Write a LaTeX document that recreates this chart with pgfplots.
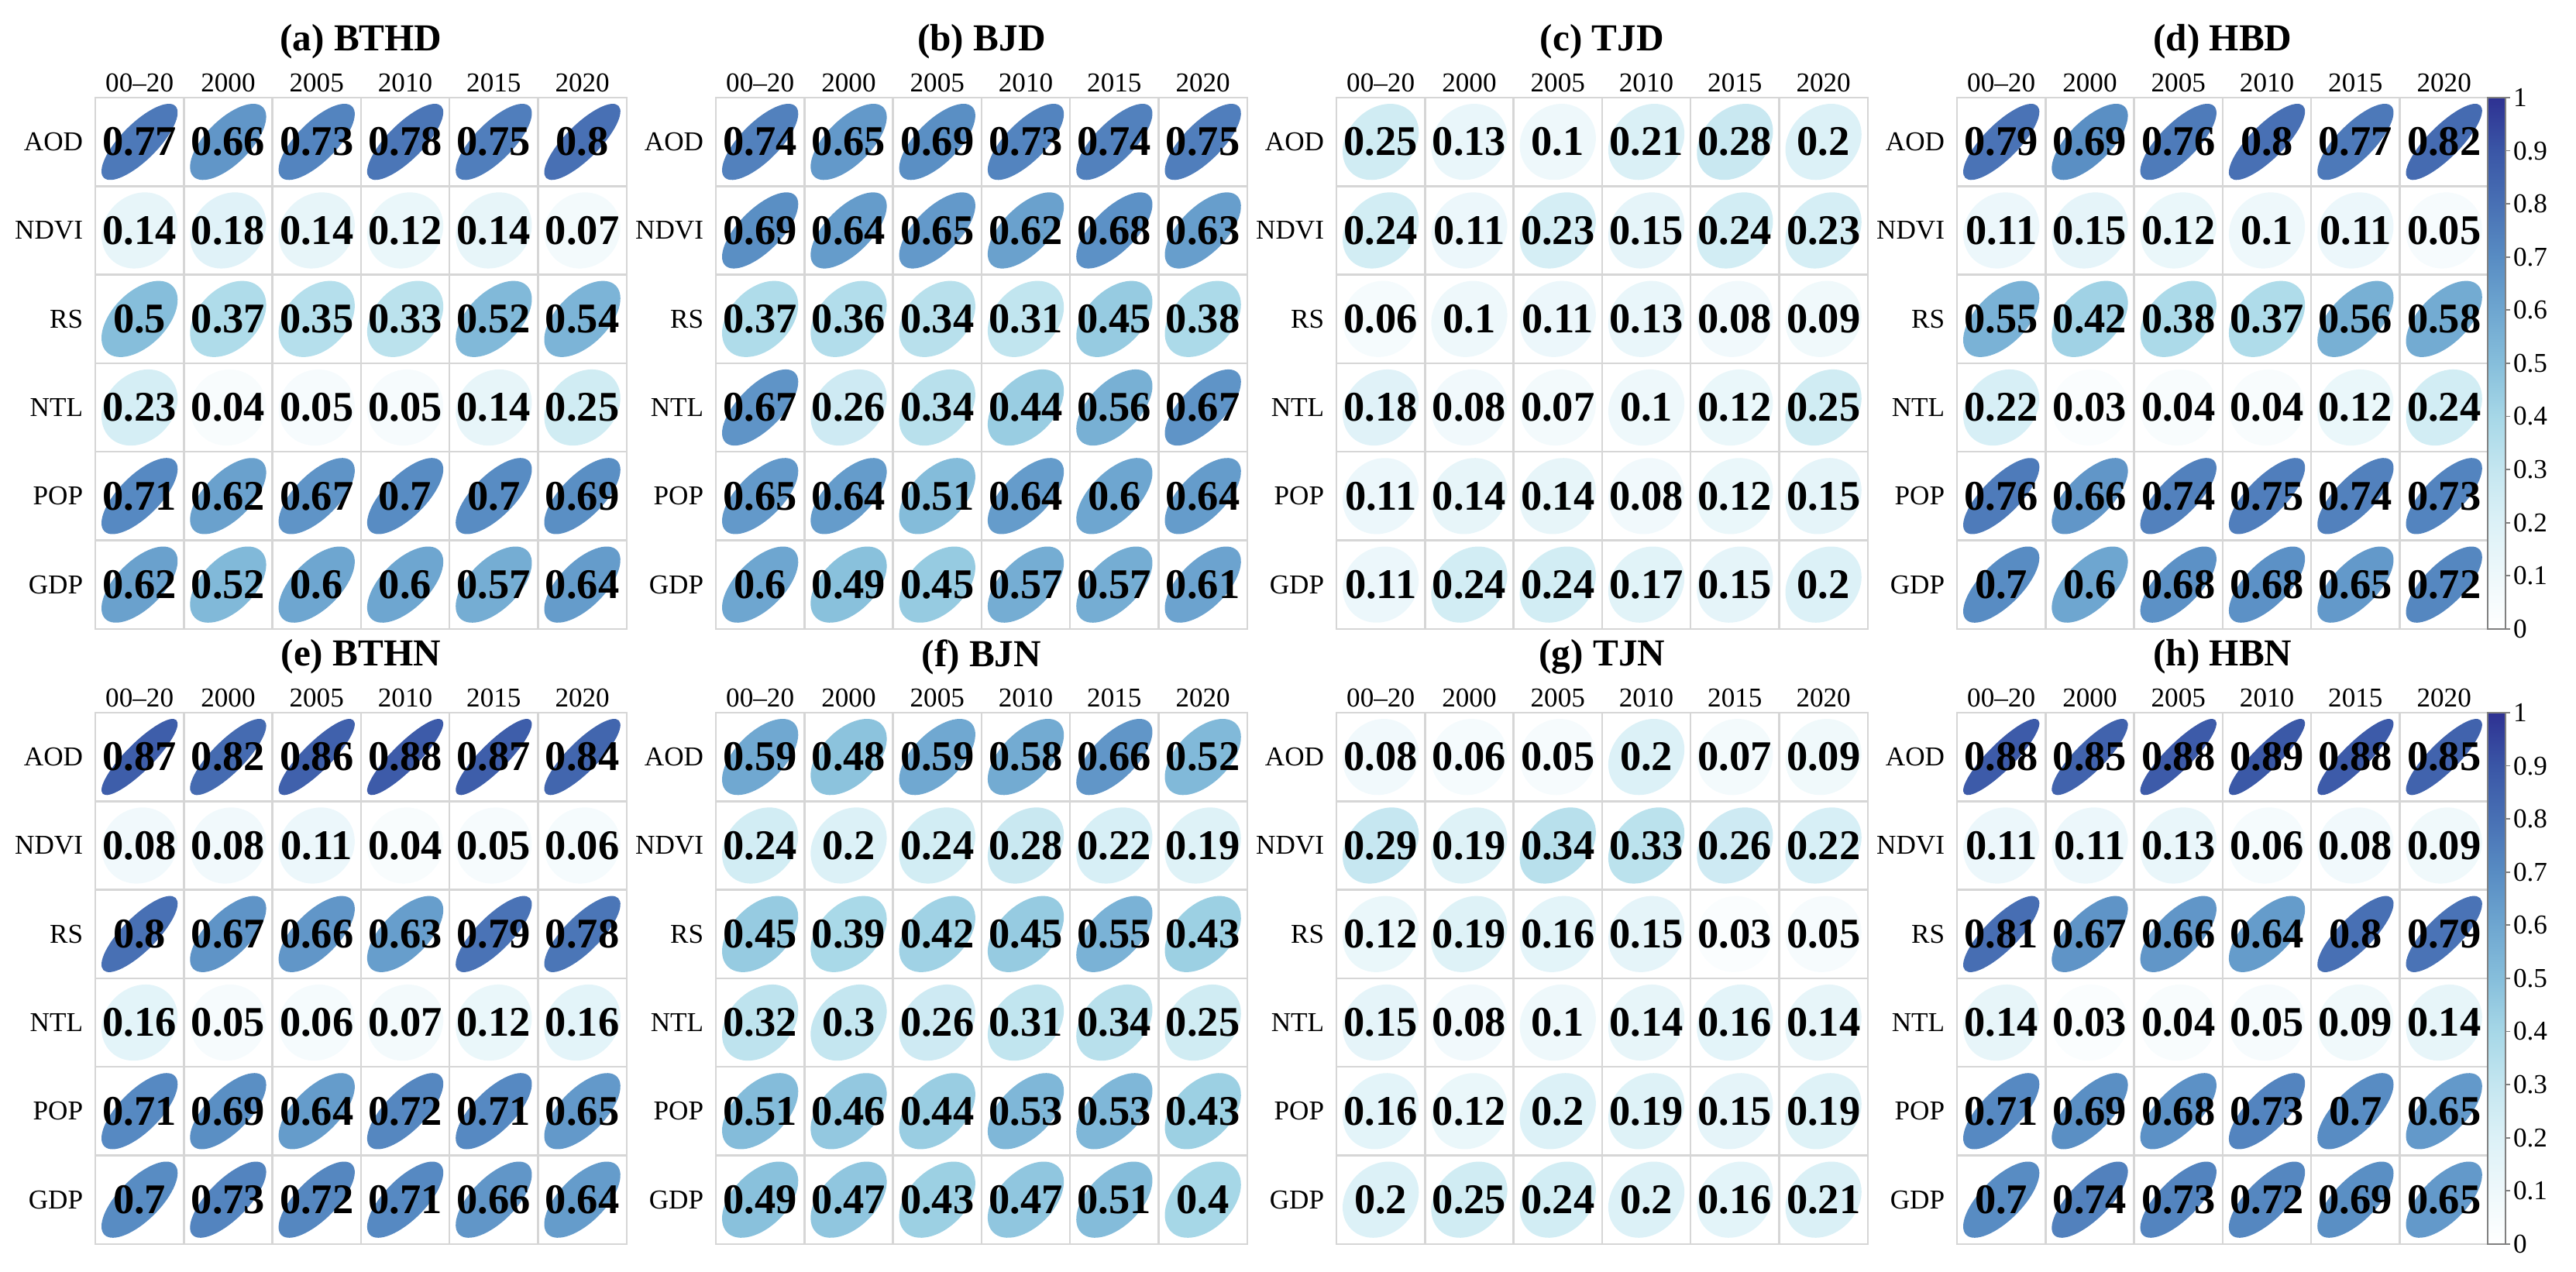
\documentclass[border=0pt]{standalone}
\usepackage{fontspec}
\setmainfont{Liberation Serif}
\usepackage{pgfplots}
\usepackage{pgfplotstable}
\pgfplotsset{compat=1.18}

\definecolor{gridgray}{RGB}{214,214,214}

% rows: AOD NDVI RS NTL POP GDP; columns: 00-20 2000 2005 2010 2015 2020
\pgfplotstableread{
c1 c2 c3 c4 c5 c6
0.77 0.66 0.73 0.78 0.75 0.8
0.14 0.18 0.14 0.12 0.14 0.07
0.5 0.37 0.35 0.33 0.52 0.54
0.23 0.04 0.05 0.05 0.14 0.25
0.71 0.62 0.67 0.7 0.7 0.69
0.62 0.52 0.6 0.6 0.57 0.64
}\tabA
\pgfplotstableread{
c1 c2 c3 c4 c5 c6
0.74 0.65 0.69 0.73 0.74 0.75
0.69 0.64 0.65 0.62 0.68 0.63
0.37 0.36 0.34 0.31 0.45 0.38
0.67 0.26 0.34 0.44 0.56 0.67
0.65 0.64 0.51 0.64 0.6 0.64
0.6 0.49 0.45 0.57 0.57 0.61
}\tabB
\pgfplotstableread{
c1 c2 c3 c4 c5 c6
0.25 0.13 0.1 0.21 0.28 0.2
0.24 0.11 0.23 0.15 0.24 0.23
0.06 0.1 0.11 0.13 0.08 0.09
0.18 0.08 0.07 0.1 0.12 0.25
0.11 0.14 0.14 0.08 0.12 0.15
0.11 0.24 0.24 0.17 0.15 0.2
}\tabC
\pgfplotstableread{
c1 c2 c3 c4 c5 c6
0.79 0.69 0.76 0.8 0.77 0.82
0.11 0.15 0.12 0.1 0.11 0.05
0.55 0.42 0.38 0.37 0.56 0.58
0.22 0.03 0.04 0.04 0.12 0.24
0.76 0.66 0.74 0.75 0.74 0.73
0.7 0.6 0.68 0.68 0.65 0.72
}\tabD
\pgfplotstableread{
c1 c2 c3 c4 c5 c6
0.87 0.82 0.86 0.88 0.87 0.84
0.08 0.08 0.11 0.04 0.05 0.06
0.8 0.67 0.66 0.63 0.79 0.78
0.16 0.05 0.06 0.07 0.12 0.16
0.71 0.69 0.64 0.72 0.71 0.65
0.7 0.73 0.72 0.71 0.66 0.64
}\tabE
\pgfplotstableread{
c1 c2 c3 c4 c5 c6
0.59 0.48 0.59 0.58 0.66 0.52
0.24 0.2 0.24 0.28 0.22 0.19
0.45 0.39 0.42 0.45 0.55 0.43
0.32 0.3 0.26 0.31 0.34 0.25
0.51 0.46 0.44 0.53 0.53 0.43
0.49 0.47 0.43 0.47 0.51 0.4
}\tabF
\pgfplotstableread{
c1 c2 c3 c4 c5 c6
0.08 0.06 0.05 0.2 0.07 0.09
0.29 0.19 0.34 0.33 0.26 0.22
0.12 0.19 0.16 0.15 0.03 0.05
0.15 0.08 0.1 0.14 0.16 0.14
0.16 0.12 0.2 0.19 0.15 0.19
0.2 0.25 0.24 0.2 0.16 0.21
}\tabG
\pgfplotstableread{
c1 c2 c3 c4 c5 c6
0.88 0.85 0.88 0.89 0.88 0.85
0.11 0.11 0.13 0.06 0.08 0.09
0.81 0.67 0.66 0.64 0.8 0.79
0.14 0.03 0.04 0.05 0.09 0.14
0.71 0.69 0.68 0.73 0.7 0.65
0.7 0.74 0.73 0.72 0.69 0.65
}\tabH

% corrplot-style ellipse; meta is mapped 0..1 -> 0..1000
\pgfdeclareplotmark{corrEll}{%
  \pgfmathsetmacro\rv{\pgfplotspointmetatransformed/1000}%
  \pgfmathsetmacro\ea{13.98*sqrt(1+\rv)}%
  \pgfmathsetmacro\eb{13.98*sqrt(max(1-\rv,0))}%
  \pgftransformrotate{45}%
  \pgfpathellipse{\pgfpointorigin}{\pgfpoint{\ea pt}{0pt}}{\pgfpoint{0pt}{\eb pt}}%
  \pgfusepathqfill}

\pgfplotsset{
  corrax/.style={
    scale only axis, anchor=north west, clip=false,
    x=1.143cm, y=1.143cm,
    xmin=0.5, xmax=6.5, ymin=0.5, ymax=6.5,
    xtick={1,2,3,4,5,6}, ytick={1,2,3,4,5,6},
    xticklabels={00--20,2000,2005,2010,2015,2020},
    yticklabels={GDP,POP,NTL,RS,NDVI,AOD},
    xticklabel pos=top,
    major tick length=0pt, minor tick length=0pt,
    minor xtick={1.5,2.5,3.5,4.5,5.5}, minor ytick={1.5,2.5,3.5,4.5,5.5},
    xminorgrids, yminorgrids,
    minor grid style={gridgray, line width=0.7pt},
    axis line style={gridgray, line width=0.7pt},
    tick label style={font=\fontsize{10}{12}\selectfont},
    xticklabel style={yshift=-1.5pt},
    yticklabel style={xshift=-1pt},
    colormap={corr}{rgb255=(255,255,255) rgb255=(238,248,251) rgb255=(220,241,247)
      rgb255=(196,230,240) rgb255=(166,215,231) rgb255=(134,190,219)
      rgb255=(110,166,208) rgb255=(88,140,195) rgb255=(72,112,180)
      rgb255=(58,86,166) rgb255=(46,49,146)},
    point meta min=0, point meta max=1,
  },
  corrplot/.style={scatter, only marks, mark=corrEll, point meta=explicit},
  corrtext/.style={
    only marks, mark=none, draw=none, point meta=explicit symbolic,
    nodes near coords, nodes near coords align=center,
    every node near coord/.append style={text=black, anchor=center,
      font=\bfseries\fontsize{15.5}{15.5}\selectfont},
  },
  corrbar/.style={
    colorbar,
    colorbar style={
      at={(parent axis.north east)}, anchor=north west, xshift=-0.31cm,
      width=0.23cm,
      ytick={0,0.1,0.2,0.3,0.4,0.5,0.6,0.7,0.8,0.9,1},
      yticklabels={0,0.1,0.2,0.3,0.4,0.5,0.6,0.7,0.8,0.9,1},
      ytick pos=right, tick align=outside, major tick length=0.06cm,
      ytick style={draw=gray, line width=0.5pt},
      axis line style={gray, line width=0.5pt},
      yticklabel style={font=\fontsize{10}{12}\selectfont, inner sep=1pt},
    },
  },
}

\newcommand\corrpanel[4]{%
  \begin{axis}[corrax, at={#1}, #4]
    \pgfplotsinvokeforeach{1,...,6}{%
      \addplot[corrplot] table[x expr=##1, y expr=6-\coordindex, meta=c##1] {#3};
      \addplot[corrtext] table[x expr=##1, y expr=6-\coordindex, meta=c##1] {#3};
    }
    \node[font=\bfseries\fontsize{14}{14}\selectfont] at (rel axis cs:0.5,1) [yshift=0.72cm] {#2};
  \end{axis}}

\begin{document}
\begin{tikzpicture}
\useasboundingbox (0,0) rectangle (33.25,16.41);
\corrpanel{(1.23cm,15.15cm)}{(a) BTHD}{\tabA}{}
\corrpanel{(9.24cm,15.15cm)}{(b) BJD}{\tabB}{}
\corrpanel{(17.25cm,15.15cm)}{(c) TJD}{\tabC}{}
\corrpanel{(25.26cm,15.15cm)}{(d) HBD}{\tabD}{corrbar}
\corrpanel{(1.23cm,7.21cm)}{(e) BTHN}{\tabE}{}
\corrpanel{(9.24cm,7.21cm)}{(f) BJN}{\tabF}{}
\corrpanel{(17.25cm,7.21cm)}{(g) TJN}{\tabG}{}
\corrpanel{(25.26cm,7.21cm)}{(h) HBN}{\tabH}{corrbar}
\end{tikzpicture}
\end{document}
